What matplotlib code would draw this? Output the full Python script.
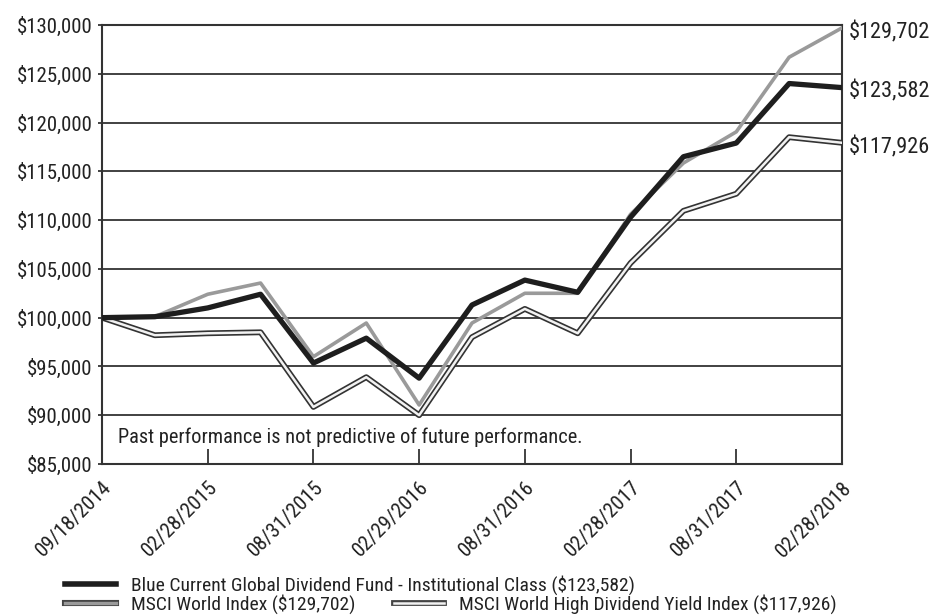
import matplotlib
matplotlib.use("Agg")
import matplotlib.pyplot as plt
import matplotlib.patheffects as pe
from matplotlib.lines import Line2D
from matplotlib.ticker import FuncFormatter

plt.rcParams['font.family'] = ['Roboto Condensed', 'DejaVu Sans']

dates = ["09/18/2014", "11/30/2014", "02/28/2015", "05/31/2015", "08/31/2015",
         "11/30/2015", "02/29/2016", "05/31/2016", "08/31/2016", "11/30/2016",
         "02/28/2017", "05/31/2017", "08/31/2017", "11/30/2017", "02/28/2018"]
fund = [100000, 100100, 101000, 102400, 95350, 97900, 93800, 101300, 103850,
        102600, 110300, 116500, 117900, 124000, 123582]
msci_world = [100000, 100100, 102400, 103550, 96000, 99450, 91050, 99450, 102500,
              102500, 110600, 115850, 119050, 126700, 129702]
msci_hdy = [100000, 98200, 98400, 98500, 90850, 93900, 90000, 98000, 100900,
            98400, 105600, 110950, 112700, 118500, 117926]
tick_labels = ["09/18/2014", "02/28/2015", "08/31/2015", "02/29/2016", "08/31/2016",
               "02/28/2017", "08/31/2017", "02/28/2018"]
end_labels = ["$129,702", "$123,582", "$117,926"]
end_values = [msci_world[-1], fund[-1], msci_hdy[-1]]
names = ["Blue Current Global Dividend Fund - Institutional Class ($123,582)",
         "MSCI World Index ($129,702)",
         "MSCI World High Dividend Yield Index ($117,926)"]

fig = plt.figure(figsize=(9.33, 6.16), dpi=100)
ax = fig.add_axes([102/933, 1-464/616, (842-102)/933, (464-25)/616])

x = list(range(len(dates)))
dark = '#222222'

hdy_fx = [pe.Stroke(linewidth=4.2, foreground='#333333'),
          pe.Stroke(linewidth=1.8, foreground='#f2f2f2')]
ax.plot(x, msci_hdy, color='#f2f2f2', lw=1.8, path_effects=hdy_fx, zorder=3)
ax.plot(x, msci_world, color='#9a9a9a', lw=2.6, zorder=4)
ax.plot(x, fund, color='#1e1e1e', lw=3.8, zorder=5)

ax.set_xlim(0, len(dates) - 1)
ax.set_ylim(85000, 130000)
ax.set_yticks(range(85000, 130001, 5000))
ax.yaxis.set_major_formatter(FuncFormatter(lambda v, p: f"${v:,.0f}"))
ax.set_xticks(x[::2])
ax.set_xticklabels(tick_labels, rotation=45, ha='right', va='top',
                   rotation_mode='anchor', fontsize=15, color=dark)
ax.tick_params(axis='x', direction='in', length=11, width=1.2, color=dark, pad=10)
ax.tick_params(axis='y', direction='out', length=3, width=1.2, color=dark,
               labelsize=15, labelcolor=dark, pad=4)
ax.grid(axis='y', color='#333333', lw=1.3, zorder=1)
ax.set_axisbelow(True)
for s in ax.spines.values():
    s.set_color('#333333')
    s.set_linewidth(1.5)

ax.text(0.022, 0.06, "Past performance is not predictive of future performance.",
        transform=ax.transAxes, fontsize=14.7, color=dark, va='center', ha='left')

for lab, v in zip(end_labels, end_values):
    ax.annotate(lab, xy=(len(dates) - 1, v), xytext=(5, -3), textcoords='offset points',
                fontsize=16, color=dark, va='center', ha='left', annotation_clip=False)

h_fund = Line2D([], [], color='#1e1e1e', lw=4)
h_world = Line2D([], [], color='#9a9a9a', lw=2.4,
                 path_effects=[pe.Stroke(linewidth=4.4, foreground='#444444'), pe.Normal()])
h_hdy = Line2D([], [], color='#f2f2f2', lw=1.8,
               path_effects=[pe.Stroke(linewidth=4.2, foreground='#444444'), pe.Normal()])

leg1 = fig.legend([h_fund], [names[0]], loc='upper left', bbox_to_anchor=(65/933, 1-575/616),
                  frameon=False, fontsize=14, handlelength=2.6, handletextpad=0.77,
                  borderpad=0, borderaxespad=0, labelcolor=dark)
leg2 = fig.legend([h_world, h_hdy], names[1:], loc='upper left',
                  bbox_to_anchor=(65/933, 1-594/616), ncol=2, frameon=False, fontsize=14,
                  handlelength=2.6, handletextpad=0.77, columnspacing=2.0,
                  borderpad=0, borderaxespad=0, labelcolor=dark)

fig.savefig("out.png", dpi=100)
